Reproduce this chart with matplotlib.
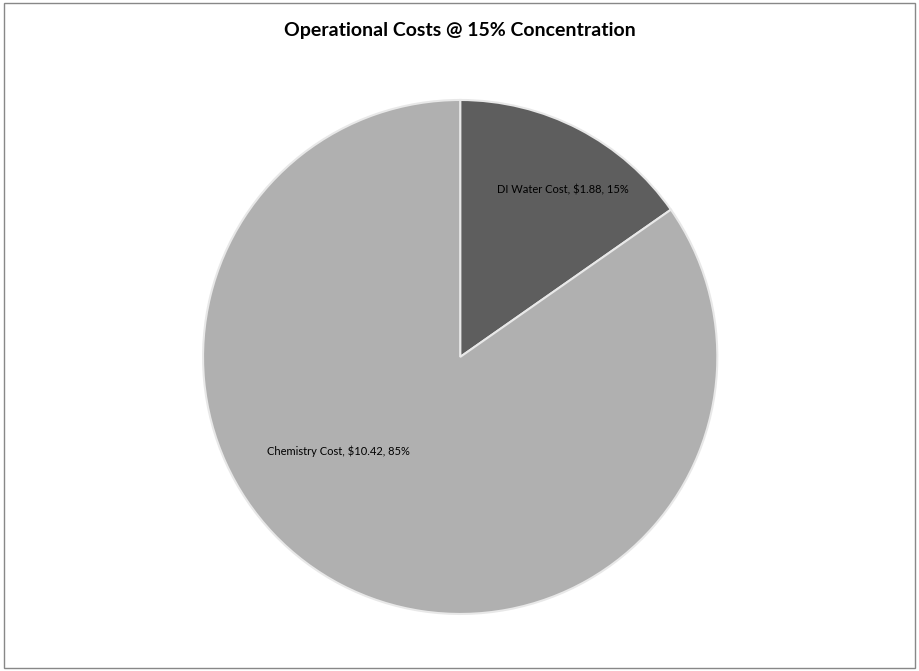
import matplotlib
matplotlib.use("Agg")
import matplotlib.pyplot as plt
from matplotlib.patches import Rectangle

categories = ["DI Water Cost", "Chemistry Cost"]
costs = [1.88, 10.42]
percents = ["15%", "85%"]
colors = ["#5e5e5e", "#b0b0b0"]

fig = plt.figure(figsize=(9.2, 6.71), dpi=100)
fig.patches.append(Rectangle((0.004, 0.004), 0.991, 0.991, transform=fig.transFigure,
                             fill=False, edgecolor="#888888", linewidth=1))
fig.text(0.5, 0.955, "Operational Costs @ 15% Concentration", ha="center", va="center",
         fontsize=14, fontweight="bold", family="Lato")

ax = fig.add_axes([0.2207, 0.085, 0.559, 0.766])
wedges, _ = ax.pie(costs, colors=colors, startangle=90, counterclock=False,
                   wedgeprops=dict(edgecolor="#e8e8e8", linewidth=1.5))
ax.set_aspect("auto")
ax.set_xlim(-1, 1)
ax.set_ylim(-1, 1)

label_pos = [(0.40, 0.65), (-0.475, -0.366)]
for name, c, p, (x, y) in zip(categories, costs, percents, label_pos):
    ax.text(x, y, f"{name}, ${c:.2f}, {p}", ha="center", va="center",
            fontsize=8, family="Lato", color="black")

fig.savefig("out.png", dpi=100)
